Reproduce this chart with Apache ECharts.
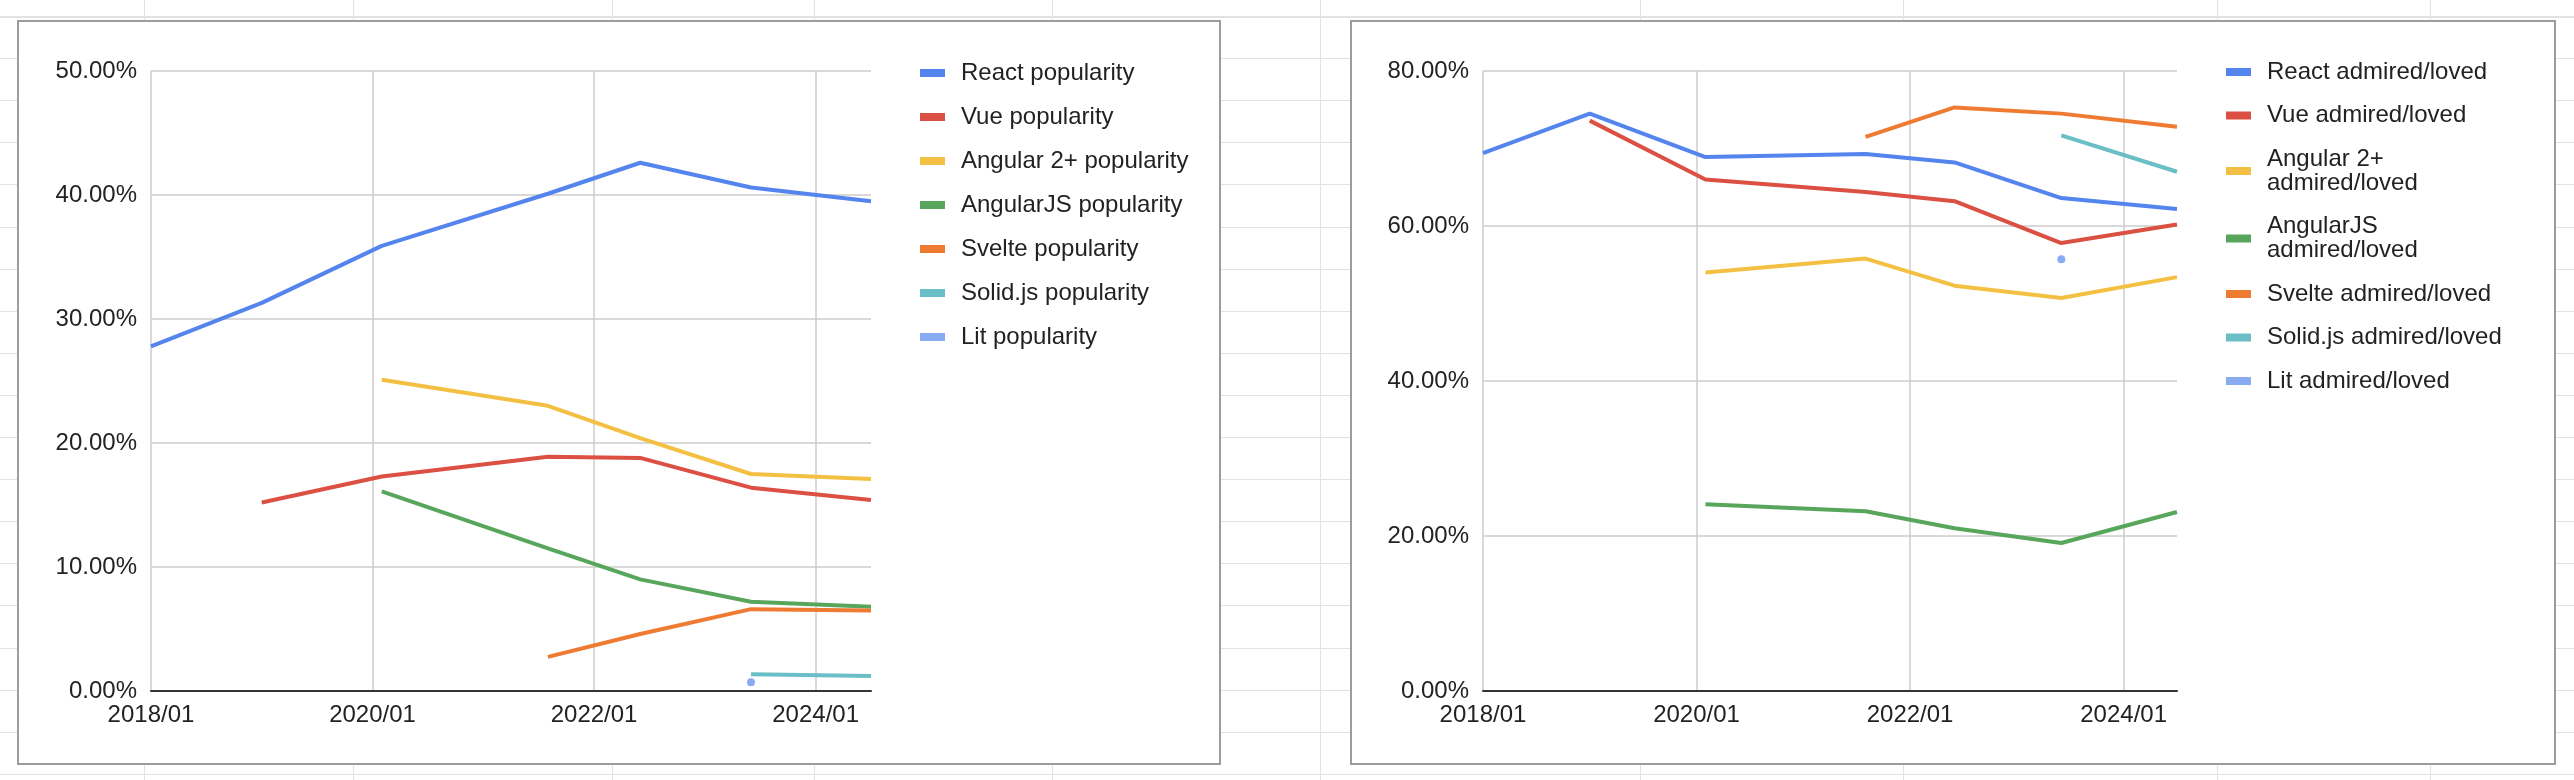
<!DOCTYPE html>
<html>
<head>
<meta charset="utf-8">
<script src="https://cdn.jsdelivr.net/npm/echarts@6/dist/echarts.min.js"></script>
<style>
  html, body { margin: 0; padding: 0; background: #fff; }
  #stage { position: relative; width: 2574px; height: 780px; overflow: hidden; background: #fff; }
  .hl { position: absolute; left: 0; width: 2574px; height: 1px; background: #e2e2e2; }
  .vl { position: absolute; top: 0; height: 780px; width: 1px; background: #e2e2e2; }
  .box { position: absolute; box-sizing: border-box; border: 2px solid #9c9c9c; background: #fff; }
  #chart { position: absolute; left: 0; top: 0; width: 2574px; height: 780px; }
</style>
</head>
<body>
<div id="stage">
  <div id="bg"></div>
  <div class="box" style="left:17px;top:20px;width:1204px;height:745px;"></div>
  <div class="box" style="left:1350px;top:20px;width:1206px;height:745px;"></div>
  <div id="chart"></div>
</div>
<script>
// ---- data ----
const dates = ['2018/01', '2019/01', '2020/02', '2021/08', '2022/06', '2023/06', '2024/07'];

const popularityNames = ['React popularity', 'Vue popularity', 'Angular 2+ popularity', 'AngularJS popularity', 'Svelte popularity', 'Solid.js popularity', 'Lit popularity'];
const reactPopularity    = [27.8, 31.3, 35.9, 40.1, 42.6, 40.6, 39.5];
const vuePopularity      = [null, 15.2, 17.3, 18.9, 18.8, 16.4, 15.4];
const angularPopularity  = [null, null, 25.1, 23.0, 20.4, 17.5, 17.1];
const angularJSPopularity= [null, null, 16.1, 11.5, 9.0, 7.2, 6.8];
const sveltePopularity   = [null, null, null, 2.75, 4.6, 6.6, 6.5];
const solidPopularity    = [null, null, null, null, null, 1.35, 1.2];
const litPopularity      = [null, null, null, null, null, 0.7, null];

const admiredNames = ['React admired/loved', 'Vue admired/loved', 'Angular 2+ admired/loved', 'AngularJS admired/loved', 'Svelte admired/loved', 'Solid.js admired/loved', 'Lit admired/loved'];
const reactAdmired     = [69.4, 74.5, 68.9, 69.3, 68.2, 63.6, 62.2];
const vueAdmired       = [null, 73.6, 66.0, 64.4, 63.2, 57.8, 60.2];
const angularAdmired   = [null, null, 54.0, 55.8, 52.3, 50.7, 53.4];
const angularJSAdmired = [null, null, 24.1, 23.2, 21.0, 19.1, 23.1];
const svelteAdmired    = [null, null, null, 71.5, 75.3, 74.5, 72.8];
const solidAdmired     = [null, null, null, null, null, 71.7, 67.0];
const litAdmired       = [null, null, null, null, null, 55.7, null];

const colors = ['#5484ED', '#DB5042', '#F4C043', '#58A65C', '#EF7B33', '#6ABEC5', '#88ABF2'];

// ---- background spreadsheet grid (decoration) ----
const sheetCols = [144, 353, 612, 814, 1052, 1320, 1640, 1903, 2217, 2430];
const bg = document.getElementById('bg');
for (let y = 16; y < 780; y += 42.1) {
  const d = document.createElement('div');
  d.className = 'hl';
  d.style.top = Math.round(y) + 'px';
  if (y < 20) d.style.height = '2px';
  bg.appendChild(d);
}
sheetCols.forEach(x => {
  const d = document.createElement('div');
  d.className = 'vl';
  d.style.left = x + 'px';
  bg.appendChild(d);
});

// ---- helpers ----
const monthIndex = s => {
  const [y, m] = s.split('/').map(Number);
  return (y - 2018) * 12 + (m - 1);
};
const xs = dates.map(monthIndex);
const toPts = vals => xs.map((x, i) => [x, vals[i]]);

const FONT = "Arial, 'Liberation Sans', sans-serif";

function xAxisFor(gridIndex) {
  return {
    type: 'value', gridIndex, min: 0, max: xs[xs.length - 1], interval: 24,
    axisLine: { show: true, onZero: false, lineStyle: { color: '#333', width: 2 } },
    axisTick: { show: false },
    axisLabel: {
      color: '#222', fontSize: 24, fontFamily: FONT, margin: 12, showMaxLabel: false,
      formatter: v => (v % 24 === 0 ? (2018 + v / 12) + '/01' : '')
    },
    splitLine: { show: true, showMaxLine: false, lineStyle: { color: '#cccccc', width: 1.5 } }
  };
}
function yAxisFor(gridIndex, max, interval) {
  return {
    type: 'value', gridIndex, min: 0, max, interval,
    axisLine: { show: false }, axisTick: { show: false },
    axisLabel: { color: '#222', fontSize: 24, fontFamily: FONT, margin: 14, formatter: v => v.toFixed(2) + '%' },
    splitLine: { show: true, lineStyle: { color: '#cccccc', width: 1.5 } }
  };
}
function lineSeries(name, vals, idx, gridIdx) {
  const single = vals.filter(v => v !== null).length === 1;
  return {
    name, type: 'line', xAxisIndex: gridIdx, yAxisIndex: gridIdx,
    data: toPts(vals),
    showSymbol: single, symbol: 'circle', symbolSize: 8,
    lineStyle: { width: 4, color: colors[idx] },
    itemStyle: { color: colors[idx] },
    connectNulls: false, silent: true, animation: false
  };
}

const popVals = [reactPopularity, vuePopularity, angularPopularity, angularJSPopularity, sveltePopularity, solidPopularity, litPopularity];
const admVals = [reactAdmired, vueAdmired, angularAdmired, angularJSAdmired, svelteAdmired, solidAdmired, litAdmired];

const series = [];
popularityNames.forEach((n, i) => series.push(lineSeries(n, popVals[i], i, 0)));
admiredNames.forEach((n, i) => series.push(lineSeries(n, admVals[i], i, 1)));

const legendText = { color: '#222', fontSize: 24, fontFamily: FONT, lineHeight: 24, padding: [0, 0, 0, 11] };
// legend labels longer than the legend column wrap before "admired/loved"
const wrapLegend = name => (name.length > 22 ? name.replace(' admired/loved', '\nadmired/loved') : name);

const chart = echarts.init(document.getElementById('chart'), null, { renderer: 'canvas' });
chart.setOption({
  backgroundColor: 'transparent',
  animation: false,
  grid: [
    { left: 151, top: 71, width: 720, height: 620 },
    { left: 1483, top: 71, width: 694, height: 620 }
  ],
  xAxis: [xAxisFor(0), xAxisFor(1)],
  yAxis: [yAxisFor(0, 50, 10), yAxisFor(1, 80, 20)],
  legend: [
    {
      data: popularityNames, orient: 'vertical', left: 915, top: 56,
      icon: 'rect', itemWidth: 25, itemHeight: 8, itemGap: 20,
      selectedMode: false, textStyle: legendText
    },
    {
      data: admiredNames, orient: 'vertical', left: 2221, top: 55,
      icon: 'rect', itemWidth: 25, itemHeight: 8, itemGap: 19.5,
      selectedMode: false, formatter: wrapLegend,
      textStyle: legendText
    }
  ],
  series
});
</script>
</body>
</html>
